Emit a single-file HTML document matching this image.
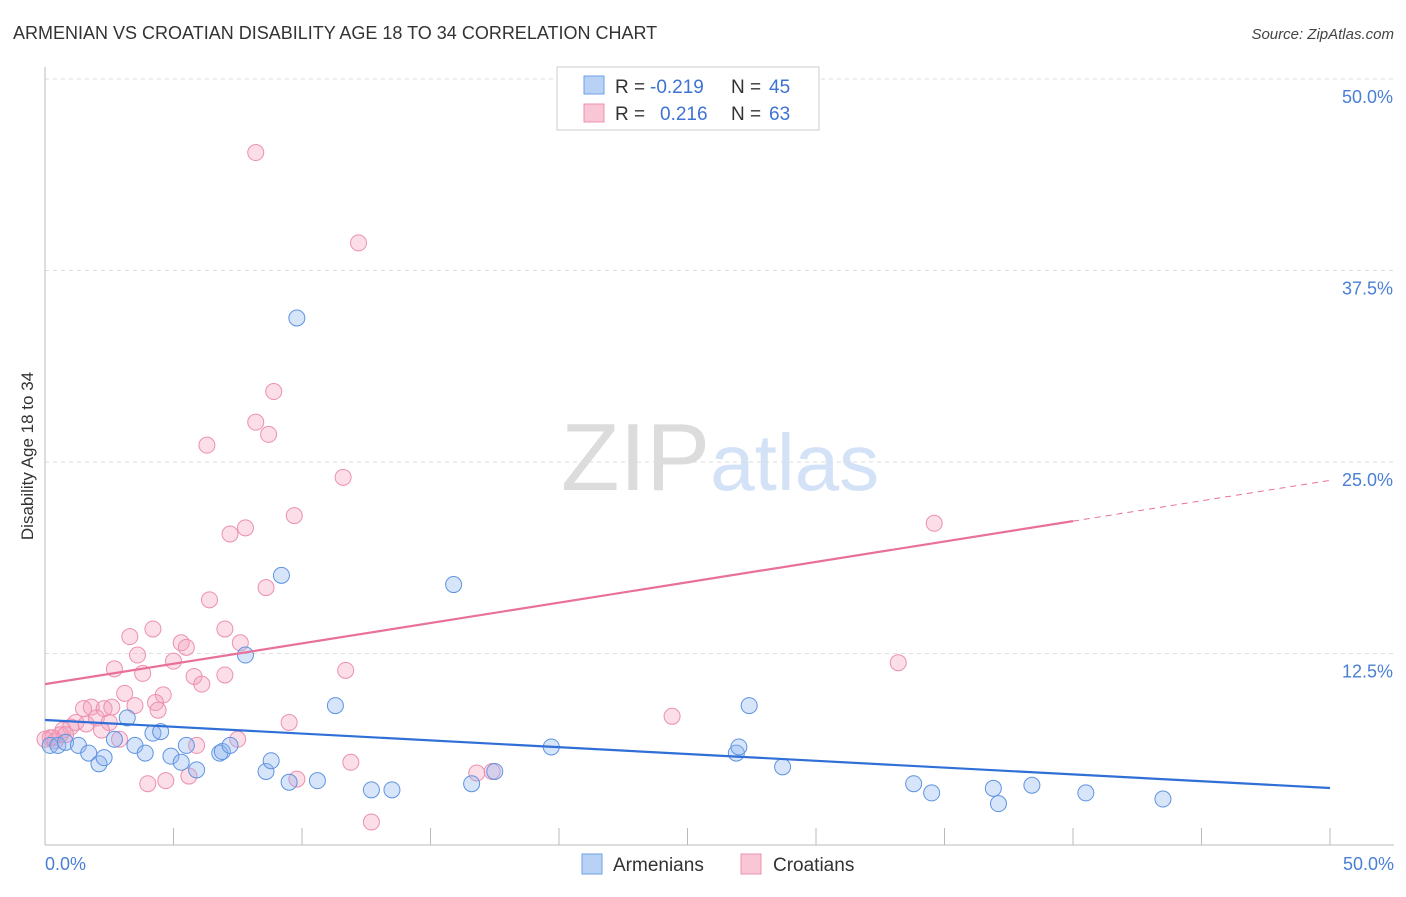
<!DOCTYPE html>
<html><head><meta charset="utf-8"><style>
body{margin:0;background:#fff;font-family:"Liberation Sans",sans-serif;}
svg text{font-family:"Liberation Sans",sans-serif;}
</style></head><body>
<svg id="chart" width="1406" height="892" xmlns="http://www.w3.org/2000/svg">
<text x="13" y="39" font-size="18" fill="#333">ARMENIAN VS CROATIAN DISABILITY AGE 18 TO 34 CORRELATION CHART</text>
<text x="1394" y="39" font-size="15" fill="#444" text-anchor="end" font-style="italic">Source: ZipAtlas.com</text>
<text x="720" y="490" font-size="96" text-anchor="middle" fill="#ddd" font-family="Liberation Serif"><tspan fill="#dcdcdc">ZIP</tspan><tspan fill="#d3e2f6" font-family="Liberation Sans" font-size="80">atlas</tspan></text>
<g id="grid"></g>
<g id="axes"></g>
<g id="marks"></g>
<text transform="translate(33,456) rotate(-90)" font-size="17" fill="#333" text-anchor="middle">Disability Age 18 to 34</text>
<text x="45" y="870" font-size="18" fill="#4a7fd6">0.0%</text>
<text x="1394" y="870" font-size="18" fill="#4a7fd6" text-anchor="end">50.0%</text>
<g>
<rect x="557" y="67" width="262" height="63" fill="#fff" stroke="#ccc"/>
<rect x="584" y="76" width="20" height="18" fill="#b8d2f5" stroke="#6fa0e6"/>
<rect x="584" y="104" width="20" height="18" fill="#f9c6d6" stroke="#ec90b0"/>
<text x="615" y="93" font-size="19" fill="#333">R =</text>
<text x="650" y="93" font-size="19" fill="#3d73d3">-0.219</text>
<text x="731" y="93" font-size="19" fill="#333">N =</text>
<text x="769" y="93" font-size="19" fill="#3d73d3">45</text>
<text x="615" y="120" font-size="19" fill="#333">R =</text>
<text x="660" y="120" font-size="19" fill="#3d73d3">0.216</text>
<text x="731" y="120" font-size="19" fill="#333">N =</text>
<text x="769" y="120" font-size="19" fill="#3d73d3">63</text>
</g>
<g>
<rect x="582" y="854" width="20" height="20" fill="#b8d2f5" stroke="#6fa0e6"/>
<text x="613" y="871" font-size="19" fill="#333">Armenians</text>
<rect x="741" y="854" width="20" height="20" fill="#f9c6d6" stroke="#ec90b0"/>
<text x="773" y="871" font-size="19" fill="#333">Croatians</text>
</g>
</svg>
<script>
const yTicks=[12.5,25,37.5,50];
const yTickLabels=["12.5%","25.0%","37.5%","50.0%"];
const armX=[0.2,0.5,0.8,1.3,1.7,2.1,2.3,2.7,3.2,3.5,3.9,4.2,4.5,4.9,5.3,5.5,5.9,6.8,6.9,7.2,7.8,8.6,8.8,9.2,9.5,9.8,10.6,11.3,12.7,13.5,15.9,16.6,17.5,19.7,26.9,27.0,27.4,28.7,33.8,34.5,36.9,37.1,38.4,40.5,43.5];
const armY=[6.5,6.5,6.7,6.5,6.0,5.3,5.7,6.9,8.3,6.5,6.0,7.3,7.4,5.8,5.4,6.5,4.9,6.0,6.1,6.5,12.4,4.8,5.5,17.6,4.1,34.4,4.2,9.1,3.6,3.6,17.0,4.0,4.8,6.4,6.0,6.4,9.1,5.1,4.0,3.4,3.7,2.7,3.9,3.4,3.0];
const croX=[8.2,12.2,8.9,8.2,8.7,6.3,11.6,9.7,7.8,7.2,6.4,8.6,3.3,4.2,5.3,7.0,5.5,7.6,3.6,5.0,2.7,3.8,5.8,7.0,11.7,33.2,6.1,3.1,4.6,4.3,1.5,1.8,2.3,2.6,3.5,4.4,2.0,2.5,1.2,1.6,0.7,1.0,9.5,24.4,34.6,2.9,7.5,5.9,0.2,0.4,0.6,4.0,4.7,5.6,9.8,11.9,16.8,17.4,12.7,0.0,0.3,0.8,2.2];
const croY=[45.2,39.3,29.6,27.6,26.8,26.1,24.0,21.5,20.7,20.3,16.0,16.8,13.6,14.1,13.2,14.1,12.9,13.2,12.4,12.0,11.5,11.2,11.0,11.1,11.4,11.9,10.5,9.9,9.8,9.3,8.9,9.0,8.9,9.0,9.1,8.8,8.3,8.0,8.0,7.9,7.5,7.7,8.0,8.4,21.0,6.9,6.9,6.5,7.0,6.8,7.2,4.0,4.2,4.5,4.3,5.4,4.7,4.8,1.5,6.9,7.0,7.2,7.5];
const armTrend=[8.16,3.72];
const croTrend=[10.5,23.8];
const croSolidEnd=40;
const NS="http://www.w3.org/2000/svg";
const sx=v=>45+v*25.7, sy=v=>845-v*15.32;
function mk(tag,attrs,parent){const e=document.createElementNS(NS,tag);for(const k in attrs)e.setAttribute(k,attrs[k]);parent.appendChild(e);return e;}
const grid=document.getElementById('grid'),axes=document.getElementById('axes'),marks=document.getElementById('marks');
yTicks.forEach((t,i)=>{
 const l=mk('line',{x1:45,x2:1394,y1:sy(t),y2:sy(t),stroke:'#ddd','stroke-dasharray':'4,4'},grid);
 
 
 const tx=mk('text',{x:1393,y:sy(t)+24,'font-size':18,fill:'#4a7fd6','text-anchor':'end'},grid);
 tx.textContent=yTickLabels[i];
 
 
});
mk('line',{x1:45,x2:45,y1:67,y2:845,stroke:'#bbb'},axes);
mk('line',{x1:45,x2:1394,y1:845,y2:845,stroke:'#bbb'},axes);
for(let i=0;i<=10;i++){const t=mk('line',{x1:sx(i*5),x2:sx(i*5),y1:828,y2:845,stroke:'#bbb'},axes);
 
 }
function dots(X,Y,fill,stroke,name){X.forEach((x,i)=>{const c=mk('circle',{cx:sx(x),cy:sy(Y[i]),r:8,fill:fill,stroke:stroke,'stroke-width':1},marks);
 
 });}
dots(croX,croY,'rgba(244,160,190,0.35)','#ec90b0','croatian-point');
dots(armX,armY,'rgba(140,180,240,0.35)','#5f93e0','armenian-point');
const cy=x=>croTrend[0]+(croTrend[1]-croTrend[0])*x/50;
let l1=mk('line',{x1:sx(0),y1:sy(armTrend[0]),x2:sx(50),y2:sy(armTrend[1]),stroke:'#2f6fd6','stroke-width':2.2},marks);


let l2=mk('line',{x1:sx(0),y1:sy(cy(0)),x2:sx(croSolidEnd),y2:sy(cy(croSolidEnd)),stroke:'#e8709a','stroke-width':2.2},marks);


let l3=mk('line',{x1:sx(croSolidEnd),y1:sy(cy(croSolidEnd)),x2:sx(50),y2:sy(cy(50)),stroke:'#e8709a','stroke-width':1,'stroke-dasharray':'6,5'},marks);


</script>
</body></html>
